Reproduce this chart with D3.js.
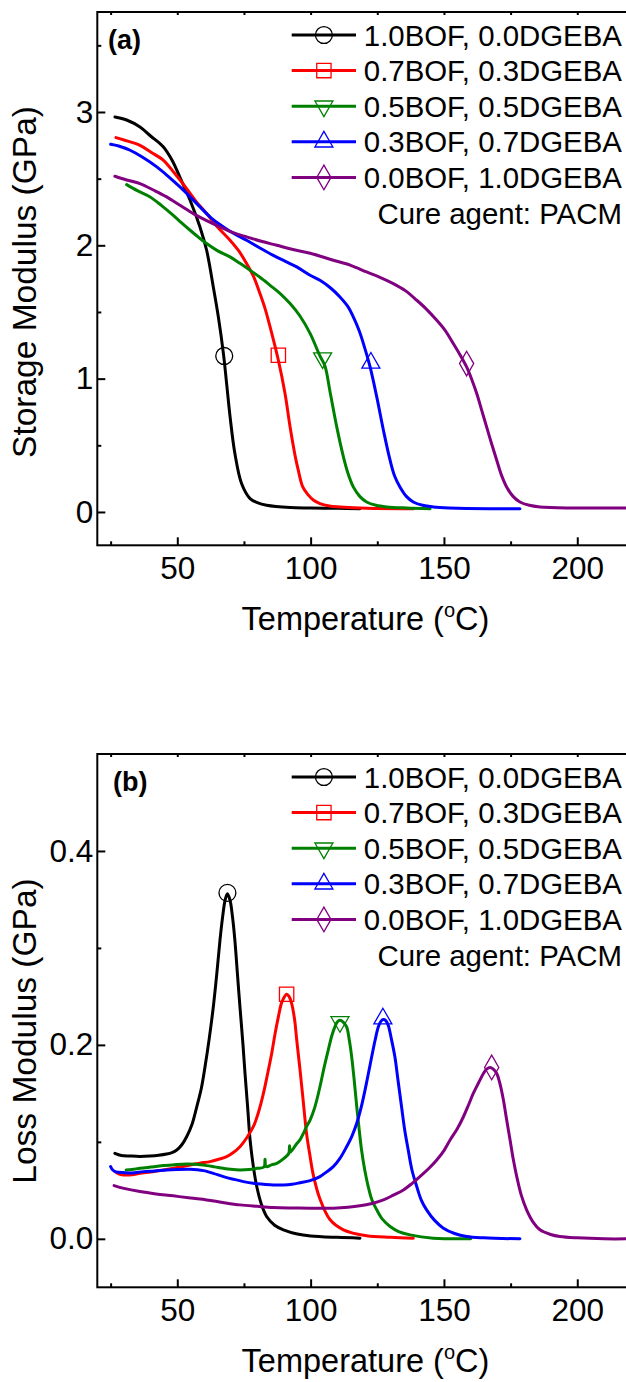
<!DOCTYPE html>
<html>
<head>
<meta charset="utf-8">
<script src="https://cdn.jsdelivr.net/npm/d3@7"></script>
<style>
  html, body { margin: 0; padding: 0; background: #fff; }
  svg { display: block; font-family: "Liberation Sans", Arial, sans-serif; }
</style>
</head>
<body>
<div id="chart"></div>
<script>
// Series names / styling order (same order in both panels)
const seriesLabels = [
  "1.0BOF, 0.0DGEBA", "0.7BOF, 0.3DGEBA", "0.5BOF, 0.5DGEBA",
  "0.3BOF, 0.7DGEBA", "0.0BOF, 1.0DGEBA"
];
const seriesColors = ["#000000", "#ff0000", "#008000", "#0000ff", "#800080"];
const seriesSymbols = ["circle", "square", "triangleDown", "triangle", "diamond"];
const noteLabel = "Cure agent: PACM";

// Axis ticks
const tempMajorTicks = [50, 100, 150, 200];
const tempMinorTicks = [25, 75, 125, 175];
const storageMajorTicks = [0, 1, 2, 3];
const storageMinorTicks = [0.5, 1.5, 2.5, 3.5];
const lossMajorTicks = [0.0, 0.2, 0.4];
const lossMinorTicks = [0.1, 0.3];

// (a) storage modulus, GPa vs temperature, degC
const storage10BOF = [[26.6,2.963],[31,2.94],[36,2.888],[40,2.82],[44.8,2.738],[48,2.64],[51,2.51],[54.8,2.338],[58.5,2.138],[61,1.963],[63.5,1.688],[65.4,1.463],[67.3,1.188],[68.5,0.963],[69.8,0.713],[71.6,0.438],[74.1,0.213],[77.3,0.1],[80,0.07],[83.5,0.05],[92.3,0.033],[100,0.03],[110,0.027],[118.5,0.025]];
const storage07BOF = [[27,2.808],[30,2.79],[36,2.75],[40,2.7],[44.8,2.638],[49,2.54],[53.5,2.425],[57,2.33],[61,2.238],[65,2.14],[69.8,2.038],[73,1.96],[76,1.863],[78.5,1.77],[81,1.638],[83,1.52],[84.8,1.388],[87.9,1.138],[90.4,0.888],[92.3,0.638],[94.4,0.4],[95.3,0.32],[97,0.19],[99,0.13],[101,0.09],[103.5,0.063],[107,0.045],[111,0.038],[121,0.028],[138.5,0.025]];
const storage05BOF = [[31,2.455],[35,2.41],[39.8,2.363],[44,2.3],[48.5,2.225],[51.5,2.17],[54.8,2.113],[58,2.06],[61,2.013],[65,1.96],[69.8,1.913],[73.5,1.865],[77.3,1.813],[81,1.76],[84.8,1.7],[88.5,1.64],[92.3,1.563],[96,1.47],[99.8,1.34],[103.5,1.17],[105.4,1.093],[107.3,0.9],[109.8,0.638],[112.3,0.413],[114,0.29],[116,0.188],[118.5,0.115],[121,0.075],[124.5,0.05],[128.5,0.038],[136,0.03],[144.8,0.025]];
const storage03BOF = [[25,2.758],[28,2.745],[32.3,2.713],[37,2.66],[42.3,2.588],[47,2.51],[51,2.438],[55,2.36],[58.5,2.288],[63,2.2],[67.3,2.138],[71.5,2.085],[76,2.038],[81,1.98],[86,1.925],[90.5,1.88],[94.8,1.838],[99.8,1.775],[103.5,1.738],[107.5,1.68],[111,1.613],[114,1.54],[116,1.463],[118,1.37],[119.8,1.263],[122.3,1.088],[124.8,0.863],[127.3,0.613],[129.8,0.388],[131.5,0.27],[133.5,0.188],[136,0.115],[138.5,0.075],[142,0.05],[146,0.038],[152,0.03],[158.5,0.026],[178.5,0.025]];
const storage00BOF = [[26.6,2.518],[31,2.49],[36,2.463],[41,2.415],[46,2.363],[51,2.3],[56,2.238],[61,2.185],[66,2.138],[71,2.095],[76,2.063],[81.5,2.03],[87.3,2.0],[93,1.97],[99.8,1.94],[108.5,1.888],[115,1.85],[121,1.8],[126,1.76],[131,1.713],[135.5,1.66],[139.8,1.588],[143.5,1.52],[147.3,1.438],[150.5,1.36],[153.5,1.263],[156,1.18],[158.5,1.088],[160.5,0.99],[162.3,0.888],[164.2,0.76],[166,0.638],[167.9,0.51],[169.8,0.388],[171.5,0.28],[173.5,0.188],[176,0.115],[178.5,0.075],[182,0.05],[186,0.038],[196,0.03],[210,0.03],[220,0.03]];
const storageMarkers = [[67.6,1.17],[87.9,1.175],[104.5,1.155],[122.6,1.118],[158.5,1.113]];

// (b) loss modulus, GPa vs temperature, degC
const loss10BOF = [[26.6,0.0882],[29,0.086],[32.3,0.0854],[36,0.085],[39.8,0.0854],[43,0.0862],[46,0.0875],[48,0.089],[49.8,0.0916],[51.7,0.097],[53.5,0.1053],[55.5,0.118],[57.3,0.1362],[59,0.155],[60.4,0.1774],[62,0.207],[63.5,0.2391],[64.8,0.273],[66,0.3078],[67,0.332],[67.9,0.3489],[68.8,0.3558],[69.8,0.3489],[70.7,0.332],[71.6,0.3078],[72.5,0.275],[73.5,0.2391],[74.5,0.205],[75.4,0.1705],[76.4,0.135],[77.3,0.1019],[78.5,0.075],[79.8,0.0539],[81.5,0.036],[83.5,0.023],[86.5,0.014],[89.8,0.0093],[95,0.005],[100,0.003],[110,0.0015],[118.5,0.0007]];
const loss07BOF = [[26.6,0.0693],[28,0.067],[29.8,0.0659],[33,0.066],[36,0.0676],[40,0.069],[44.8,0.071],[50,0.0735],[54.8,0.0762],[58.5,0.078],[62.3,0.0796],[65.5,0.082],[68.5,0.0847],[71,0.089],[73.5,0.095],[76,0.104],[78.5,0.1156],[80.5,0.131],[82.3,0.1499],[84,0.172],[85.4,0.1911],[86.7,0.212],[87.9,0.2289],[89,0.2425],[89.8,0.2477],[91,0.2522],[92,0.2495],[92.9,0.2426],[94,0.226],[94.8,0.2048],[96,0.175],[97.3,0.14],[98.5,0.108],[99.8,0.085],[101,0.066],[103.5,0.041],[107.3,0.0196],[112.3,0.0093],[121,0.0031],[130,0.0015],[138.5,0.0007]];
const loss05BOF = [[30.8,0.071],[33,0.0715],[36,0.0727],[40,0.074],[44.8,0.0755],[49,0.0765],[53.5,0.0772],[57,0.0768],[61,0.0755],[64,0.0742],[67.3,0.0727],[70,0.0717],[73.5,0.071],[77,0.0715],[79.8,0.0727],[82.5,0.074],[82.9,0.082],[83.3,0.0745],[85.5,0.0765],[87.3,0.0779],[90,0.083],[91.8,0.088],[92.1,0.096],[92.4,0.0895],[94.5,0.097],[96,0.102],[97.3,0.1088],[98.5,0.116],[99.8,0.1225],[101.5,0.135],[103.5,0.1568],[105,0.176],[106.6,0.1945],[108,0.21],[109.1,0.2186],[110,0.2235],[111,0.2254],[112.2,0.2235],[113.5,0.2186],[114.5,0.205],[115.4,0.1877],[116.4,0.162],[117.3,0.1362],[118.2,0.113],[119.1,0.0916],[120.3,0.071],[121.6,0.0539],[123,0.04],[124.8,0.0299],[127,0.02],[129.8,0.0127],[133,0.0075],[137.3,0.0041],[146,0.0007],[160,0]];
const loss03BOF = [[25,0.0745],[25.8,0.071],[27,0.069],[29.8,0.0683],[33,0.068],[37.3,0.0693],[41.5,0.07],[46,0.071],[50,0.0715],[54.8,0.0717],[57.5,0.0712],[59.8,0.0703],[63.5,0.0675],[67.3,0.0642],[71,0.0615],[74.8,0.059],[78.5,0.0572],[82.3,0.0563],[86,0.0556],[89.8,0.0556],[93,0.0563],[96,0.0578],[99.8,0.06],[103.5,0.0642],[106,0.069],[108.5,0.0745],[111,0.083],[113.5,0.095],[115.5,0.106],[117.3,0.1191],[119,0.136],[120.4,0.1534],[121.7,0.171],[122.9,0.1877],[124.2,0.205],[125.4,0.2186],[126.4,0.2245],[127.3,0.2261],[128.2,0.225],[129.1,0.2203],[130.3,0.206],[131.6,0.1877],[132.8,0.163],[134.1,0.1362],[135.3,0.112],[136.6,0.0916],[138,0.071],[139.8,0.0539],[141.5,0.04],[143.5,0.0299],[146.5,0.019],[149.8,0.011],[154,0.0055],[158.5,0.0024],[165,0.001],[178.5,0]];
const loss00BOF = [[26.3,0.0549],[30,0.052],[36,0.0487],[42,0.0463],[48.5,0.0443],[55,0.042],[61,0.0401],[67,0.0375],[73.5,0.035],[80,0.0335],[86,0.0323],[93,0.0318],[99.8,0.0316],[108.5,0.0316],[114,0.0325],[118.5,0.034],[123,0.0365],[127.3,0.0401],[131,0.045],[134.8,0.0504],[138,0.057],[141,0.0642],[144.3,0.0725],[147.3,0.0813],[150,0.091],[152.3,0.1019],[155,0.1135],[157.3,0.1259],[159.2,0.138],[161,0.1499],[163,0.161],[164.8,0.1705],[166,0.175],[167.3,0.1767],[168.5,0.175],[169.8,0.1705],[171,0.16],[172.3,0.1431],[173.5,0.123],[174.8,0.1019],[176,0.082],[177.3,0.0642],[179,0.045],[181,0.0299],[183.5,0.017],[186,0.0093],[190,0.0045],[193.5,0.0024],[200,0.001],[210,0],[220,0]];
const lossMarkers = [[68.8,0.3568],[91,0.2522],[111,0.2237],[127.1,0.2271],[167.9,0.1767]];

const W = 626, H = 1382;
const plotLeft = 97.3;
const plotSize = 533.3;

// symbol shapes, sizes roughly matched to the figure
const symbolPath = (name) => {
  const table = {
    circle: [d3.symbolCircle, 225],
    square: [d3.symbolSquare, 205],
    triangle: [d3.symbolTriangle, 140],
    triangleDown: [d3.symbolTriangle, 140],
    diamond: [d3.symbolDiamond, 175]
  };
  const [type, size] = table[name];
  return d3.symbol().type(type).size(size)();
};

const addMarker = (parent, name, color, px, py) => {
  parent.append("path")
    .attr("d", symbolPath(name))
    .attr("transform", `translate(${px},${py})` + (name === "triangleDown" ? " rotate(180)" : ""))
    .attr("fill", "none")
    .attr("stroke", color)
    .attr("stroke-width", 1.3);
};

const styleAxis = (sel, fontSize) => {
  sel.attr("font-size", null).attr("font-family", null);
  sel.select(".domain").remove();
  sel.selectAll(".tick line").attr("stroke", "#000").attr("stroke-width", 2);
  sel.selectAll(".tick text").attr("fill", "#000").style("font-size", fontSize + "px");
};

const drawPanel = (svg, opts) => {
  const { top, yDomain, yMajor, yMinor, yFormat, yLabel, yLabelY, curves, markers, tag, tagX } = opts;

  const x = d3.scaleLinear().domain([20, 220]).range([0, plotSize]);
  const y = d3.scaleLinear().domain(yDomain).range([plotSize, 0]);

  const g = svg.append("g").attr("transform", `translate(${plotLeft},${top})`);

  const clipId = "clip-" + tag.replace(/\W/g, "");
  g.append("clipPath").attr("id", clipId)
    .append("rect").attr("width", plotSize).attr("height", plotSize);

  // Bottom axis (major + minor, inward ticks)
  g.append("g")
    .attr("transform", `translate(0,${plotSize})`)
    .call(d3.axisBottom(x).tickValues(tempMajorTicks).tickSize(-8).tickPadding(11).tickFormat(d3.format("d")))
    .call(s => styleAxis(s, 31.5));
  g.append("g")
    .attr("transform", `translate(0,${plotSize})`)
    .call(d3.axisBottom(x).tickValues(tempMinorTicks).tickSize(-4).tickFormat(""))
    .call(s => styleAxis(s, 31.5));

  // Top axis, short ticks only
  g.append("g")
    .call(d3.axisTop(x).tickValues(tempMajorTicks.concat(tempMinorTicks)).tickSize(-3).tickFormat(""))
    .call(s => styleAxis(s, 31.5));

  // Left axis
  g.append("g")
    .call(d3.axisLeft(y).tickValues(yMajor).tickSize(-8).tickPadding(4).tickFormat(yFormat))
    .call(s => styleAxis(s, 31.5));
  g.append("g")
    .call(d3.axisLeft(y).tickValues(yMinor).tickSize(-4).tickFormat(""))
    .call(s => styleAxis(s, 31.5));

  // Frame
  g.append("rect")
    .attr("width", plotSize).attr("height", plotSize)
    .attr("fill", "none").attr("stroke", "#000").attr("stroke-width", 2);

  // Curves
  const line = d3.line()
    .x(d => x(d[0]))
    .y(d => y(d[1]))
    .curve(d3.curveCatmullRom.alpha(0.5));

  const curveG = g.append("g").attr("clip-path", `url(#${clipId})`);
  curves.forEach((data, i) => {
    curveG.append("path")
      .datum(data)
      .attr("fill", "none")
      .attr("stroke", seriesColors[i])
      .attr("stroke-width", 3)
      .attr("stroke-linejoin", "round")
      .attr("stroke-linecap", "round")
      .attr("d", line);
  });

  // One marker per curve
  markers.forEach((m, i) => {
    addMarker(curveG, seriesSymbols[i], seriesColors[i], x(m[0]), y(m[1]));
  });

  // Legend
  const legend = g.append("g");
  const rowY = i => 23 + i * 35.6;
  seriesLabels.forEach((label, i) => {
    legend.append("line")
      .attr("x1", 194.4).attr("x2", 258.7)
      .attr("y1", rowY(i)).attr("y2", rowY(i))
      .attr("stroke", seriesColors[i])
      .attr("stroke-width", 3);
    addMarker(legend, seriesSymbols[i], seriesColors[i], 226.6, rowY(i));
    legend.append("text")
      .attr("x", 524.6).attr("y", rowY(i) + 10.5)
      .attr("text-anchor", "end")
      .style("font-size", "29.4px")
      .text(label);
  });
  legend.append("text")
    .attr("x", 524.6).attr("y", rowY(5) + 10.5)
    .attr("text-anchor", "end")
    .style("font-size", "29.4px")
    .text(noteLabel);

  // Panel tag
  g.append("text")
    .attr("x", tagX).attr("y", 37)
    .style("font-size", "27px")
    .style("font-weight", "bold")
    .text(tag);

  // Axis titles
  const xTitle = g.append("text")
    .attr("x", plotSize / 2 + 1.5)
    .attr("y", plotSize + 85)
    .attr("text-anchor", "middle")
    .style("font-size", "32.5px");
  xTitle.append("tspan").text("Temperature (");
  xTitle.append("tspan").attr("dy", -13).style("font-size", "20px").text("o");
  xTitle.append("tspan").attr("dy", 13).text("C)");

  svg.append("text")
    .attr("transform", `translate(36,${yLabelY}) rotate(-90)`)
    .attr("text-anchor", "middle")
    .style("font-size", "33.5px")
    .text(yLabel);
};

const svg = d3.select("#chart")
  .append("svg")
  .attr("width", W)
  .attr("height", H)
  .attr("viewBox", `0 0 ${W} ${H}`);

drawPanel(svg, {
  top: 12,
  yDomain: [-0.25, 3.75],
  yMajor: storageMajorTicks,
  yMinor: storageMinorTicks,
  yFormat: d3.format("d"),
  yLabel: "Storage Modulus (GPa)",
  yLabelY: 282,
  curves: [storage10BOF, storage07BOF, storage05BOF, storage03BOF, storage00BOF],
  markers: storageMarkers,
  tag: "(a)",
  tagX: 10.7
});

drawPanel(svg, {
  top: 754,
  yDomain: [-0.05, 0.5],
  yMajor: lossMajorTicks,
  yMinor: lossMinorTicks,
  yFormat: d3.format(".1f"),
  yLabel: "Loss Modulus (GPa)",
  yLabelY: 1031,
  curves: [loss10BOF, loss07BOF, loss05BOF, loss03BOF, loss00BOF],
  markers: lossMarkers,
  tag: "(b)",
  tagX: 15.7
});
</script>
</body>
</html>
